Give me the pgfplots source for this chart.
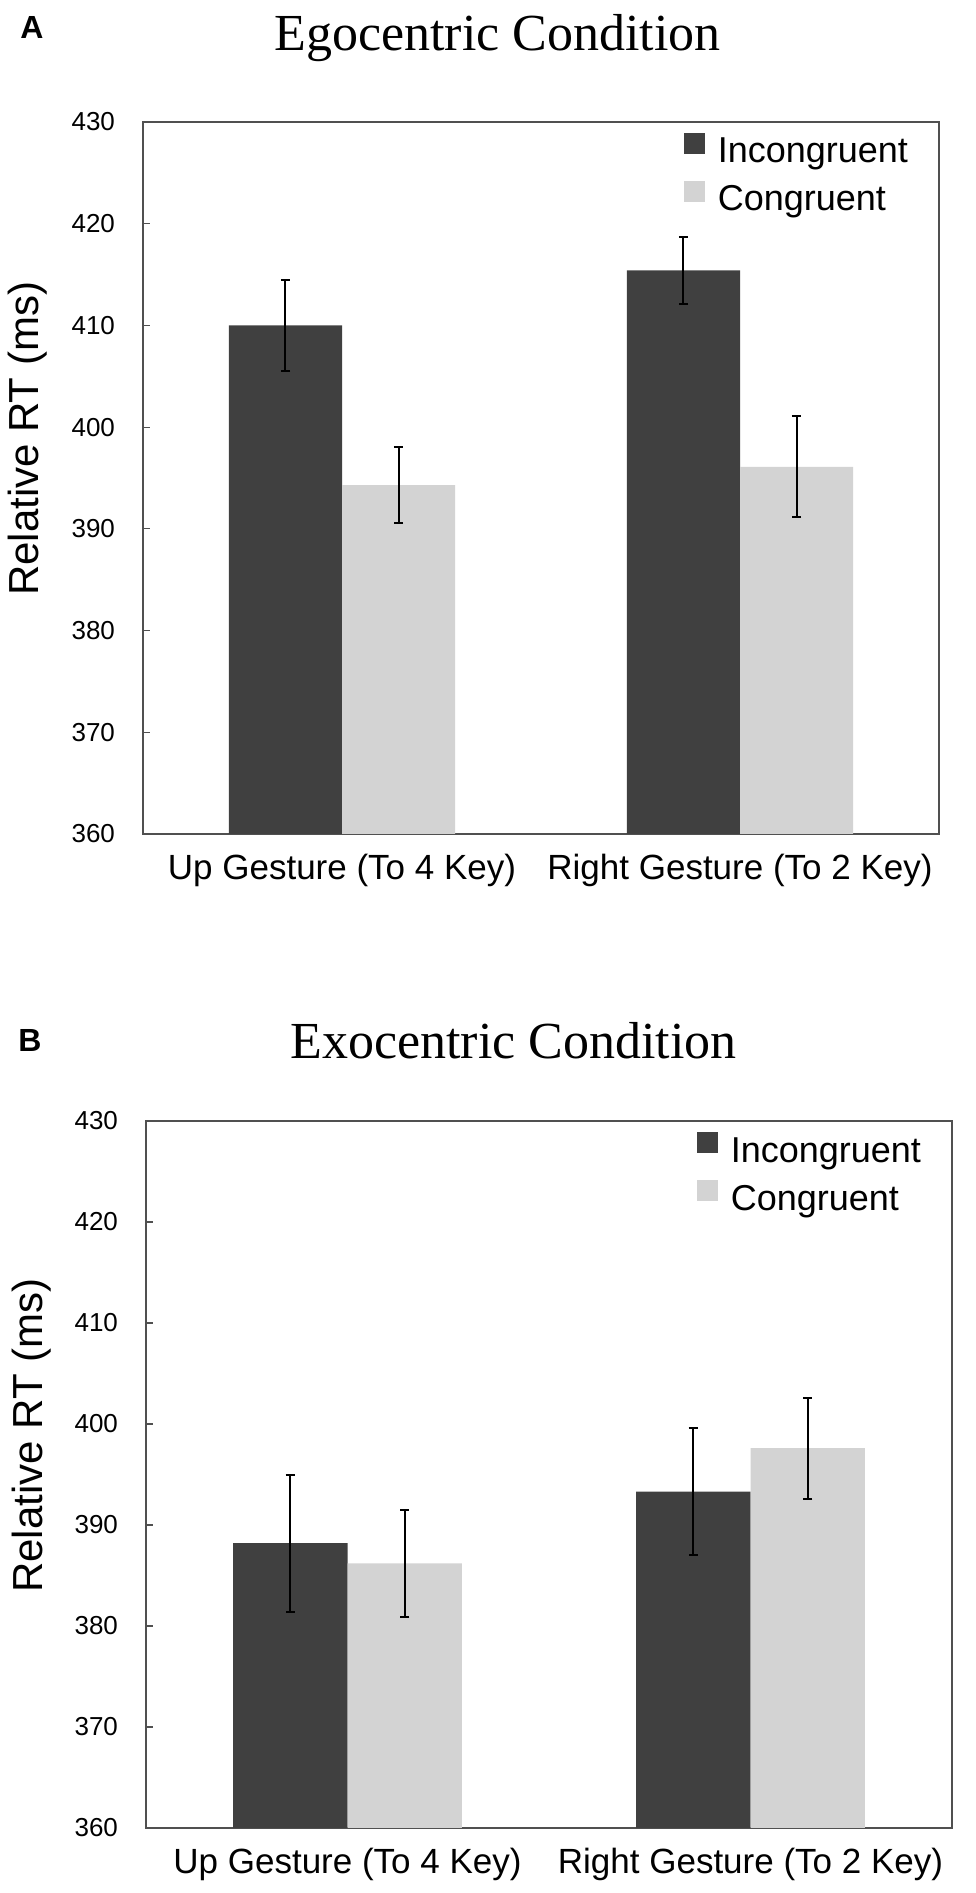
\documentclass[border=0pt]{standalone}
\usepackage{fontspec}
\setmainfont{Liberation Sans}
\newfontfamily\timesfont{Liberation Serif}
\usepackage{pgfplots}
\usepackage{pgfplotstable}
\pgfplotsset{compat=1.18}
\definecolor{darkbar}{HTML}{404040}
\definecolor{lightbar}{HTML}{D3D3D3}
\definecolor{framegray}{HTML}{505050}

\pgfplotstableread{
x inc incerr con conerr
0 410.0 4.5 394.3 3.75
1 415.4 3.3 396.1 4.95
}\egoData

\pgfplotstableread{
x inc incerr con conerr
0 388.2 6.8 386.2 5.3
1 393.3 6.3 397.6 5.0
}\exoData

\pgfplotsset{
  rtstyle/.style={
    scale only axis,
    anchor=south west,
    xmin=-0.5, xmax=1.5,
    ymin=360, ymax=430,
    ytick={360,370,...,430},
    xtick={0,1},
    xticklabels={Up Gesture (To 4 Key), Right Gesture (To 2 Key)},
    xtick style={draw=none},
    ytick pos=left,
    tick align=inside,
    major tick length=3.5pt,
    ytick style={framegray, line width=0.6pt},
    axis line style={framegray, line width=0.6pt},
    /pgf/number format/assume math mode=true,
    yticklabel style={font=\fontsize{13}{13}\selectfont, xshift=-10.5pt},
    xticklabel style={font=\fontsize{17.5}{17.5}\selectfont, yshift=-3pt},
    ylabel={Relative RT (ms)},
    ylabel style={font=\fontsize{21}{21}\selectfont, anchor=center},
    ybar, bar width=0.284,
    legend style={draw=none, fill=none, at={(rel axis cs:1,1)}, anchor=north east,
      xshift=-15.5pt, yshift=-5.5pt, inner sep=0pt, outer sep=0pt,
      font=\fontsize{18}{18}\selectfont, column sep=6.5pt, row sep=5pt,
      nodes={inner sep=0pt, text height=13pt, text depth=4pt}},
    legend cell align=left,
    legend image code/.code={\fill[##1] (0pt,0pt) rectangle (10.5pt,10.5pt);},
    error bars/y dir=both,
    error bars/y explicit,
    error bars/error bar style={black, line width=1pt},
    error bars/error mark=-,
    error bars/error mark options={rotate=90, black, line width=1pt, mark size=2.3pt},
  }
}

\begin{document}
\begin{tikzpicture}
\useasboundingbox (0,0) rectangle (487.5pt,946.5pt);
\begin{axis}[rtstyle, at={(71.5pt,529.5pt)}, width=398pt, height=356pt,
  ylabel style={at={(axis description cs:-0.1445,0.555)}}]
\addplot[fill=darkbar, draw=none, bar shift=-0.142] table[x=x, y=inc, y error=incerr] {\egoData};
\addlegendentry{Incongruent}
\addplot[fill=lightbar, draw=none, bar shift=0.142] table[x=x, y=con, y error=conerr] {\egoData};
\addlegendentry{Congruent}
\end{axis}
\begin{axis}[rtstyle, at={(73pt,32.5pt)}, width=403pt, height=353.5pt,
  ylabel style={at={(axis description cs:-0.1414,0.555)}}]
\addplot[fill=darkbar, draw=none, bar shift=-0.142] table[x=x, y=inc, y error=incerr] {\exoData};
\addlegendentry{Incongruent}
\addplot[fill=lightbar, draw=none, bar shift=0.142] table[x=x, y=con, y error=conerr] {\exoData};
\addlegendentry{Congruent}
\end{axis}
\node[font=\timesfont\fontsize{26}{26}\selectfont, anchor=base, inner sep=0pt] at (248.75pt,921pt) {Egocentric Condition};
\node[font=\timesfont\fontsize{26}{26}\selectfont, anchor=base, inner sep=0pt] at (256.75pt,417pt) {Exocentric Condition};
\node[font=\bfseries\fontsize{16}{16}\selectfont, anchor=base west, inner sep=0pt] at (10pt,927pt) {A};
\node[font=\bfseries\fontsize{16}{16}\selectfont, anchor=base west, inner sep=0pt] at (9pt,420.5pt) {B};
\end{tikzpicture}
\end{document}
